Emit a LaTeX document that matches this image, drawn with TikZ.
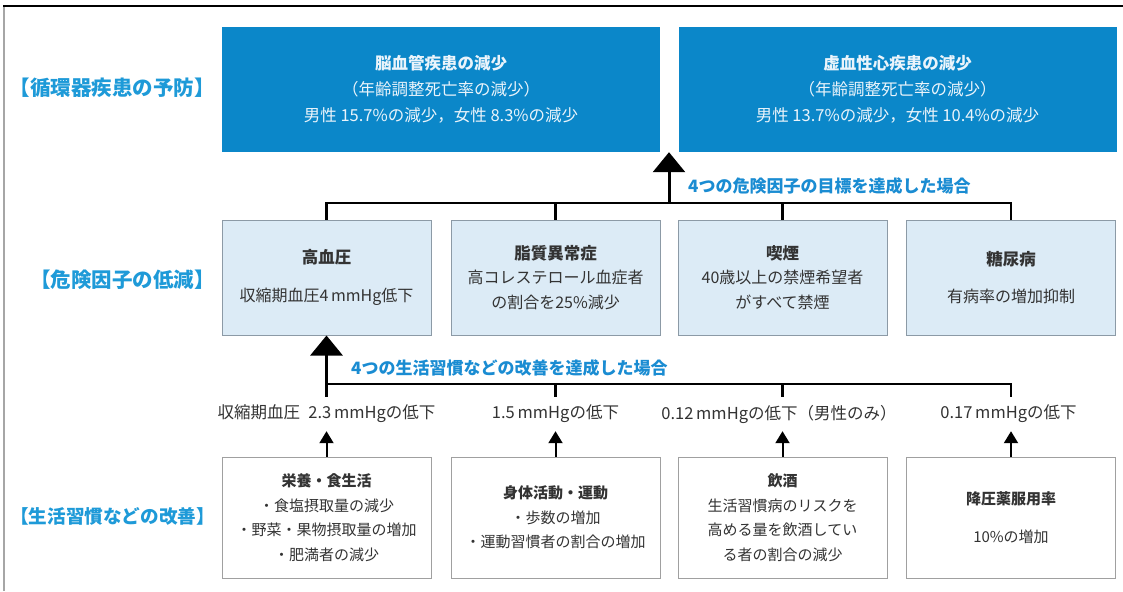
\documentclass[tikz,border=0pt]{standalone}
\usepackage{fontspec}
\setmainfont{Noto Sans CJK JP}
\usetikzlibrary{arrows.meta}
\definecolor{topblue}{HTML}{0B87C9}
\definecolor{topfg}{HTML}{EAF4FB}
\definecolor{midfill}{HTML}{DCEBF6}
\definecolor{midline}{HTML}{8C9AA6}
\definecolor{lowline}{HTML}{A0A0A0}
\definecolor{bodytext}{HTML}{333333}
\definecolor{sideblue}{HTML}{1E9AD8}
\definecolor{condblue}{HTML}{1A8CD2}
\begin{document}
\begin{tikzpicture}[x=1pt,y=-1pt,
  topbox/.style={fill=topblue, draw=none, minimum width=438pt, minimum height=125pt, text=topfg, align=center, font=\fontsize{16.5}{26}\selectfont, inner sep=0pt},
  midbox/.style={fill=midfill, draw=midline, line width=1pt, minimum width=209pt, minimum height=115pt, align=center, text=bodytext, font=\fontsize{16}{24.5}\selectfont, inner sep=0pt},
  lowbox/.style={fill=white, draw=lowline, line width=1pt, minimum width=209pt, minimum height=121pt, align=center, text=bodytext, font=\fontsize{15}{24.5}\selectfont, inner sep=0pt},
  side/.style={text=sideblue, font=\fontsize{20.5}{24}\selectfont\bfseries, anchor=east, inner sep=0pt},
  cond/.style={text=condblue, font=\fontsize{17}{20}\selectfont\bfseries, anchor=west, inner sep=0pt},
  eff/.style={text=bodytext, font=\fontsize{16.5}{18}\selectfont, minimum height=34pt, inner sep=0pt},
  bus/.style={line width=2.5pt, draw=black},
  big/.style={line width=3pt, -{Triangle[width=32pt,length=20pt]}},
  small/.style={line width=2pt, -{Triangle[width=14pt,length=12pt]}},
]
\useasboundingbox (0,0) rectangle (1123,591);
\fill[white] (0,0) rectangle (1123,591);
% frame
\draw[line width=2pt, gray!70] (4,591) -- (4,6);
\draw[line width=1.5pt, black] (3,6) -- (1123,6);

% top boxes
\node[topbox] (cbv) at (441,89.5) {\textbf{脳血管疾患の減少}\\（年齢調整死亡率の減少）\\男性 15.7\%の減少，女性 8.3\%の減少};
\node[topbox] (ihd) at (897.5,89.5) {\textbf{虚血性心疾患の減少}\\（年齢調整死亡率の減少）\\男性 13.7\%の減少，女性 10.4\%の減少};

% middle boxes
\node[midbox] (hbp) at (326.5,277.5) {{\fontsize{16.5}{24.5}\selectfont\textbf{高血圧}}\\[13pt]収縮期血圧4\,mmHg低下};
\node[midbox] (dys) at (555.5,277.5) {{\fontsize{16.5}{24.5}\selectfont\textbf{脂質異常症}}\\高コレステロール血症者\\の割合を25\%減少};
\node[midbox] (smk) at (782.5,277.5) {{\fontsize{16.5}{24.5}\selectfont\textbf{喫煙}}\\40歳以上の禁煙希望者\\がすべて禁煙};
\node[midbox] (dm) at (1011,277.5) {{\fontsize{16.5}{24.5}\selectfont\textbf{糖尿病}}\\[13pt]有病率の増加抑制};

% bottom boxes
\node[lowbox] (diet) at (326.5,517.5) {\textbf{栄養・食生活}\\・食塩摂取量の減少\\・野菜・果物摂取量の増加\\・肥満者の減少};
\node[lowbox] (pa) at (555.5,517.5) {\textbf{身体活動・運動}\\・歩数の増加\\・運動習慣者の割合の増加};
\node[lowbox] (alc) at (782.5,517.5) {\textbf{飲酒}\\生活習慣病のリスクを\\高める量を飲酒してい\\る者の割合の減少};
\node[lowbox] (med) at (1011,517.5) {\textbf{降圧薬服用率}\\[13pt]10\%の増加};

% effect labels
\node[eff] (e1) at (326.5,414) {収縮期血圧\hspace{0.5em}2.3\,mmHgの低下};
\node[eff] (e2) at (555.5,414) {1.5\,mmHgの低下};
\node[eff] (e3) at (779,414) {0.12\,mmHgの低下（男性のみ）};
\node[eff] (e4) at (1008.5,414) {0.17\,mmHgの低下};

% side labels
\node[side] (s1) at (215,88) {【循環器疾患の予防】};
\node[side] (s2) at (215,280) {【危険因子の低減】};
\node[side, font=\fontsize{18.6}{24}\selectfont\bfseries] (s3) at (215,516) {【生活習慣などの改善】};

% condition labels
\node[cond] (c1) at (688,186) {4つの危険因子の目標を達成した場合};
\node[cond] (c2) at (351,368) {4つの生活習慣などの改善を達成した場合};

% upper bus
\coordinate (j1) at (669,203);
\draw[bus] (hbp.north) -- (hbp.north |- j1) -- (dm.north |- j1) -- (dm.north);
\draw[bus] (dys.north |- j1) -- (dys.north);
\draw[bus] (smk.north |- j1) -- (smk.north);
\draw[big] (j1) -- (cbv.south -| j1);

% lower bus
\coordinate (j2) at (326.5,384);
\draw[bus] (e1.north -| j2) -- (j2) -- (j2 -| dm.south) -- (e4.north -| dm.south);
\draw[bus] (j2 -| pa.north) -- (e2.north -| pa.north);
\draw[bus] (j2 -| alc.north) -- (e3.north -| alc.north);
\draw[big] (j2) -- (hbp.south);

% small arrows
\draw[small] (diet.north) -- (e1.south -| diet.north);
\draw[small] (pa.north) -- (e2.south -| pa.north);
\draw[small] (alc.north) -- (e3.south -| alc.north);
\draw[small] (med.north) -- (e4.south -| med.north);
\end{tikzpicture}
\end{document}
